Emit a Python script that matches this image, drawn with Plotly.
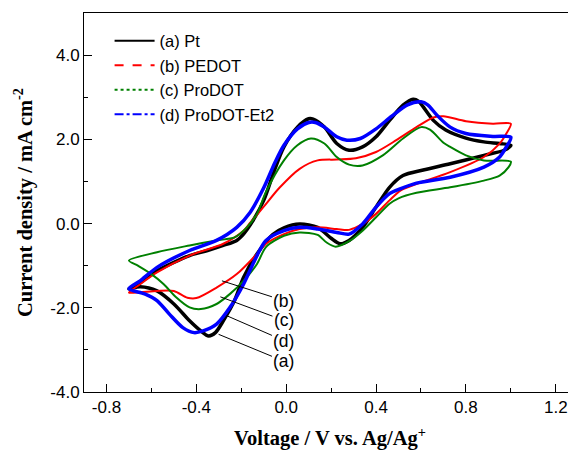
import plotly.graph_objects as go

# Cyclic voltammograms, values (V vs Ag/Ag+, mA cm-2)
pt_x = [-0.70, -0.65, -0.575, -0.50, -0.43, -0.35, -0.28, -0.22, -0.19, -0.15, -0.10, -0.05, -0.01,
        0.05, 0.10, 0.12, 0.17, 0.225, 0.28, 0.34, 0.40, 0.46, 0.52, 0.565, 0.59, 0.61, 0.655, 0.71,
        0.80, 0.88, 0.95, 1.00,
        0.97, 0.88, 0.73, 0.61, 0.52, 0.46, 0.40, 0.34, 0.28, 0.24, 0.20, 0.14, 0.06, -0.01, -0.06,
        -0.13, -0.19, -0.23, -0.28, -0.315, -0.345, -0.38, -0.43, -0.50, -0.575, -0.65, -0.70]
pt_y = [-1.55, -1.40, -1.12, -0.92, -0.76, -0.64, -0.52, -0.40, -0.25, 0.05, 0.55, 1.30, 1.82,
        2.29, 2.49, 2.48, 2.29, 1.90, 1.74, 1.82, 2.06, 2.45, 2.81, 2.95, 2.90, 2.77, 2.45, 2.22,
        2.03, 1.94, 1.90, 1.86,
        1.74, 1.62, 1.42, 1.27, 1.14, 0.86, 0.39, -0.09, -0.40, -0.48, -0.35, -0.09, -0.01, -0.10, -0.26,
        -0.72, -1.28, -1.83, -2.31, -2.59, -2.67, -2.55, -2.31, -1.91, -1.60, -1.50, -1.55]

pedot_x = [-0.70, -0.65, -0.575, -0.43, -0.28, -0.19, -0.16, -0.10, -0.03, 0.06, 0.14, 0.225, 0.31,
           0.40, 0.49, 0.58, 0.655, 0.70, 0.80, 0.92, 1.00,
           0.98, 0.95, 0.88, 0.73, 0.58, 0.51, 0.46, 0.40, 0.34, 0.28, 0.225, 0.14, 0.06, -0.01,
           -0.09, -0.13, -0.22, -0.31, -0.40, -0.44, -0.50, -0.575, -0.65, -0.70]
pedot_y = [-1.64, -1.44, -1.16, -0.76, -0.48, -0.17, 0.02, 0.40, 0.85, 1.30, 1.50, 1.52, 1.55,
           1.70, 1.98, 2.29, 2.52, 2.55, 2.43, 2.37, 2.37,
           2.14, 1.90, 1.58, 1.22, 0.94, 0.79, 0.55, 0.23, -0.01, -0.15, -0.13, -0.09, -0.13, -0.25,
           -0.48, -0.72, -1.20, -1.52, -1.77, -1.76, -1.60, -1.60, -1.63, -1.64]

prodot_x = [-0.70, -0.575, -0.43, -0.31, -0.23, -0.175, -0.13, -0.09, -0.01, 0.05, 0.11, 0.17, 0.225,
            0.28, 0.34, 0.43, 0.52, 0.60, 0.64, 0.70, 0.73, 0.80, 0.88, 1.00,
            0.99, 0.95, 0.88, 0.73, 0.58, 0.50, 0.46, 0.40, 0.34, 0.28, 0.22, 0.18, 0.14, 0.06, -0.01,
            -0.09, -0.13, -0.19, -0.25, -0.31, -0.38, -0.43, -0.49, -0.545, -0.60, -0.66, -0.70]
prodot_y = [-0.88, -0.68, -0.52, -0.40, -0.33, -0.09, 0.23, 0.75, 1.50, 1.86, 2.02, 1.90, 1.58,
            1.40, 1.38, 1.62, 2.02, 2.29, 2.23, 1.92, 1.82, 1.62, 1.50, 1.47,
            1.34, 1.14, 1.02, 0.86, 0.73, 0.60, 0.47, 0.15, -0.17, -0.42, -0.55, -0.45, -0.27, -0.21, -0.29,
            -0.56, -0.96, -1.36, -1.67, -1.91, -2.03, -1.99, -1.75, -1.44, -1.20, -1.00, -0.88]

et2_x = [-0.70, -0.65, -0.575, -0.43, -0.31, -0.22, -0.16, -0.10, -0.05, -0.01, 0.05, 0.10, 0.13,
         0.17, 0.225, 0.27, 0.33, 0.40, 0.47, 0.54, 0.60, 0.63, 0.67, 0.73, 0.80, 0.92, 1.00,
         0.98, 0.95, 0.88, 0.73, 0.58, 0.51, 0.46, 0.40, 0.34, 0.28, 0.225, 0.14, 0.06, -0.01, -0.09,
         -0.13, -0.19, -0.25, -0.31, -0.37, -0.41, -0.46, -0.52, -0.575, -0.63, -0.70]
et2_y = [-1.55, -1.36, -1.04, -0.64, -0.40, -0.09, 0.27, 0.85, 1.45, 1.86, 2.25, 2.40, 2.40,
         2.29, 2.06, 1.98, 2.02, 2.25, 2.55, 2.82, 2.89, 2.82, 2.58, 2.29, 2.14, 2.07, 2.05,
         1.82, 1.58, 1.34, 1.10, 0.96, 0.83, 0.71, 0.39, -0.01, -0.25, -0.21, -0.13, -0.09, -0.17, -0.40,
         -0.76, -1.44, -1.99, -2.39, -2.55, -2.59, -2.47, -2.15, -1.83, -1.67, -1.55]

series_names = ["(a) Pt", "(b) PEDOT", "(c) ProDOT", "(d) ProDOT-Et2"]

# leader-line labels: curve point and label position
label_text = ["(b)", "(c)", "(d)", "(a)"]
label_pt_x = [-0.286, -0.293, -0.264, -0.301]
label_pt_y = [-1.36, -1.74, -2.19, -2.63]
label_x = [-0.01, -0.01, -0.01, -0.01]
label_y = [-1.83, -2.30, -2.78, -3.27]

x_ticks = [-0.8, -0.4, 0.0, 0.4, 0.8, 1.2]
x_ticktext = ["-0.8", "-0.4", "0.0", "0.4", "0.8", "1.2"]
y_ticks = [-4, -2, 0, 2, 4]
y_ticktext = ["-4.0", "-2.0", "0.0", "2.0", "4.0"]

colors = ["black", "red", "#008000", "blue"]
widths = [3.5, 2, 2, 3.5]
dashes = ["solid", "dash", "dot", "dashdot"]
curves = [(pt_x, pt_y), (pedot_x, pedot_y), (prodot_x, prodot_y), (et2_x, et2_y)]

fig = go.Figure()
for (cx, cy), col, w in zip(curves, colors, widths):
    fig.add_trace(go.Scatter(x=cx, y=cy, mode="lines", showlegend=False,
                             line=dict(color=col, width=w, shape="spline", smoothing=0.8)))

# legend-only entries carry the line styles
for name, col, d in zip(series_names, colors, dashes):
    fig.add_trace(go.Scatter(x=[None], y=[None], mode="lines", name=name,
                             line=dict(color=col, width=2, dash=d)))

sans = "Liberation Sans, Arial"
for t, px, py, lx, ly in zip(label_text, label_pt_x, label_pt_y, label_x, label_y):
    fig.add_annotation(x=px, y=py, ax=lx, ay=ly, axref="x", ayref="y", text=t,
                       showarrow=True, arrowhead=0, arrowwidth=1, arrowcolor="black",
                       font=dict(family=sans, size=17.5, color="black"))

axis_font = dict(family=sans, size=17, color="black")
title_font = dict(family="Liberation Serif, Times New Roman", size=20.5, color="black")

# page body has an 8px margin, so the figure is 8px smaller on each axis
fig.update_layout(
    width=568, height=446,
    margin=dict(l=76, r=0, t=5, b=62),
    plot_bgcolor="white", paper_bgcolor="white",
    legend=dict(x=0.052, y=0.972, xanchor="left", yanchor="top", bgcolor="rgba(0,0,0,0)",
                font=dict(family=sans, size=16.5, color="black"),
                tracegroupgap=0, itemwidth=40),
)
fig.update_xaxes(
    range=[-0.9, 1.29], showgrid=False, zeroline=False, automargin=False,
    showline=True, linecolor="black", linewidth=1, mirror=True,
    tickmode="array", tickvals=x_ticks, ticktext=x_ticktext,
    ticks="inside", ticklen=8, tickcolor="black", tickfont=axis_font,
    minor=dict(tickmode="array", tickvals=[-0.6, -0.2, 0.2, 0.6, 1.0],
               ticks="inside", ticklen=4, tickcolor="black"),
    title=dict(text="<b>Voltage / V vs. Ag/Ag<sup>+</sup></b>", font=title_font, standoff=14),
)
fig.update_yaxes(
    range=[-4, 5], showgrid=False, zeroline=False, automargin=False,
    showline=True, linecolor="black", linewidth=1,
    tickmode="array", tickvals=y_ticks, ticktext=y_ticktext,
    ticks="inside", ticklen=8, tickcolor="black", tickfont=axis_font,
    minor=dict(tickmode="array", tickvals=[-3, -1, 1, 3],
               ticks="inside", ticklen=4, tickcolor="black"),
    title=dict(text="<b>Current density / mA cm<sup>-2</sup></b>", font=title_font, standoff=12),
)

fig.write_html("out.html")
